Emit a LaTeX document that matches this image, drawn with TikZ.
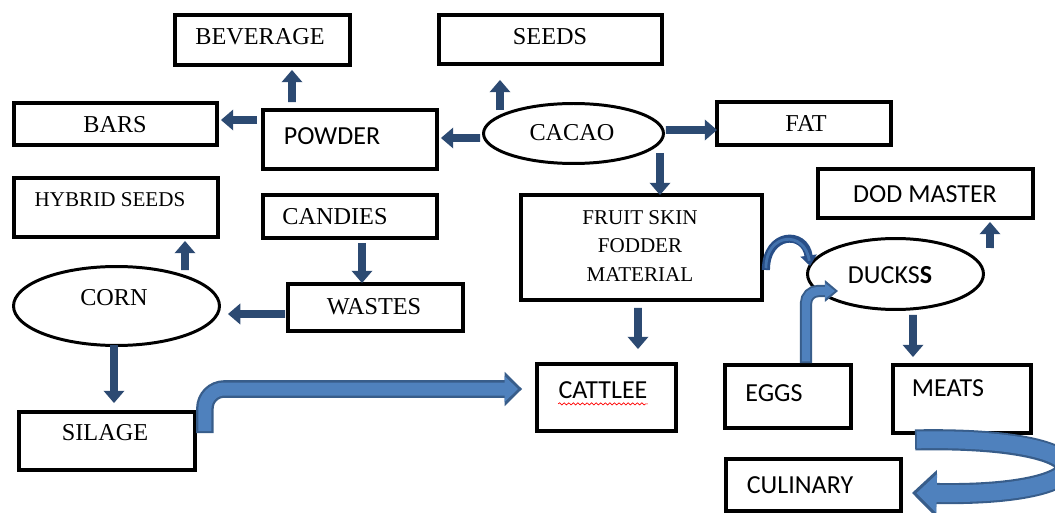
\documentclass[tikz,border=0pt]{standalone}
\usepackage{fontspec}
\setmainfont{Liberation Serif}
\newfontfamily\calibri{Carlito}
\usetikzlibrary{shapes,arrows.meta,positioning,calc,decorations.pathmorphing}
\definecolor{arrowdark}{RGB}{44,74,114}
\definecolor{fatline}{RGB}{56,93,138}
\definecolor{fatfill}{RGB}{79,129,189}
\definecolor{curlyblue}{RGB}{40,78,135}

\begin{document}
\begin{tikzpicture}
	[x=0.02cm, y=-0.02cm,
		box/.style 2 args={rectangle, draw=black, line width=2.2pt, minimum width=#1, minimum height=#2, inner sep=0pt},
		oval/.style 2 args={ellipse, draw=black, line width=1.7pt, minimum width=#1, minimum height=#2, inner sep=0pt},
		serif/.style={inner sep=0pt, font=\fontsize{13.8}{16}\selectfont},
		smallserif/.style={inner sep=0pt, align=center, font=\fontsize{12}{16.4}\selectfont},
		sans/.style={inner sep=0pt, font=\calibri\fontsize{14.8}{17}\selectfont},
		arr/.style={draw=arrowdark, line width=4.5pt, -{Triangle[width=11.5pt, length=7pt]}},
	]
	
	\useasboundingbox (0,0) rectangle (1055,513);
	
	% cacao side
	\node[box={3.5cm}{1cm}] (beverage) at (262.5,40) {};
	\node[box={4.46cm}{0.98cm}] (seeds) at (550.5,39.5) {};
	\node[box={4.06cm}{0.84cm}] (bars) at (115.5,124) {};
	\node[box={3.48cm}{1.18cm}] (powder) at (350,139.5) {};
	\node[oval={3.6cm}{1.2cm}] (cacao) at (573.5,133.5) {};
	\node[box={3.48cm}{0.86cm}] (fat) at (804,123.5) {};
	\node[box={3.48cm}{0.86cm}] (candies) at (350,216.5) {};
	\node[box={4.82cm}{2.1cm}] (fruit) at (641.5,247.5) {};
	
	% corn side
	\node[box={4.08cm}{1.18cm}] (hybrid) at (116,207.5) {};
	\node[oval={4.12cm}{1.58cm}] (corn) at (116.5,306) {};
	\node[box={3.5cm}{0.94cm}] (wastes) at (375.5,307.5) {};
	\node[box={3.52cm}{1.16cm}] (silage) at (107,441) {};
	\node[box={2.78cm}{1.34cm}] (cattlee) at (606.5,397.5) {};
	
	% ducks side
	\node[box={4.3cm}{0.98cm}] (dodmaster) at (925.5,193.5) {};
	\node[oval={3.52cm}{1.42cm}] (duckss) at (895.5,274) {};
	\node[box={2.52cm}{1.26cm}] (eggs) at (788,396.5) {};
	\node[box={2.76cm}{1.36cm}] (meats) at (962,399) {};
	\node[box={3.5cm}{1.04cm}] (culinary) at (813.5,485) {};
	
	% texts
	\node[serif] (beveragetext) at (260,37) {BEVERAGE};
	\node[serif] (seedstext) at (550,37) {SEEDS};
	\node[serif] (barstext) at (115,125) {BARS};
	\node[sans] (powdertext) at (332,136) {POWDER};
	\node[serif] (cacaotext) at (572,133) {CACAO};
	\node[serif] (fattext) at (806,123) {FAT};
	\node[smallserif] (hybridtext) at (110,200) {HYBRID SEEDS};
	\node[serif] (candiestext) at (335,217) {CANDIES};
	\node[smallserif] (fruittext) at (640,246) {FRUIT SKIN\\FODDER\\MATERIAL};
	\node[sans] (dodtext) at (925,194) {DOD MASTER};
	\node[sans] (duckstext) at (890,275) {DUCKS\textbf{S}};
	\node[serif] (corntext) at (114,298) {CORN};
	\node[serif] (wastestext) at (374,307) {WASTES};
	\node[serif] (silagetext) at (105,433) {SILAGE};
	\node[sans] (cattleetext) at (603,390) {CATTLEE};
	\node[sans] (eggstext) at (774,393) {EGGS};
	\node[sans] (meatstext) at (948,388) {MEATS};
	\node[sans] (culinarytext) at (800,485) {CULINARY};
	
	\draw[red, line width=0.4pt, decorate, decoration={snake, amplitude=0.6pt, segment length=2.6pt}] ($(cattleetext.south west)+(0,5)$) -- ($(cattleetext.south east)+(0,5)$);
	
	% straight arrows
	\draw[arr] ($(powder.north)+(-58,-6)$) -- ($(beverage.south)+(29.5,3)$);
	\draw[arr] ($(powder.west)+(-4,-19.5)$) -- ($(bars.east)+(2,-4)$);
	\draw[arr] ($(cacao.west)+(-2,4.5)$) -- ($(powder.east)+(2,-1.5)$);
	\draw[arr] ($(cacao.north)+(-73.5,8)$) -- ($(seeds.south)+(-50.5,14)$);
	\draw[arr] ($(cacao.east)+(1,-3.5)$) -- ($(fat.west)+(2,6.5)$);
	\draw[arr] ($(cacao.south)+(86.5,-12)$) -- ($(fruit.north)+(18.5,2)$);
	\draw[arr] ($(corn.north)+(68.5,5)$) -- ($(hybrid.south)+(69,2)$);
	\draw[arr] ($(candies.south)+(12,3)$) -- ($(wastes.north)+(-13.5,1)$);
	\draw[arr] ($(wastes.west)+(-1,6.5)$) -- ($(corn.east)+(7,8)$);
	\draw[arr] ($(corn.south)+(-2.5,-2)$) -- ($(silage.north)+(7,-7)$);
	\draw[arr] ($(fruit.south)+(-3.5,6)$) -- ($(cattlee.north)+(31.5,-13)$);
	\draw[arr] ($(duckss.east)+(5,-26)$) -- ($(dodmaster.south)+(64.5,2)$);
	\draw[arr] ($(duckss.south)+(17.5,4)$) -- ($(meats.north)+(-49,-6)$);
	
	% block arrows
	\draw[fatline, line width=10pt, rounded corners=11pt, -{Triangle[width=19pt, length=10pt]},
		postaction={draw=fatfill, line width=7.4pt, shorten >=2.4pt, shorten <=1pt, -{Triangle[width=14.5pt, length=7.6pt]}}]
		($(silage.east)+(8,-8)$) |- ($(cattlee.west)+(-13,-8.5)$);
	\draw[fatline, line width=7pt, rounded corners=7pt, -{Triangle[width=12pt, length=7.5pt]},
		postaction={draw=fatfill, line width=4.8pt, shorten >=1.8pt, shorten <=1pt, -{Triangle[width=8.5pt, length=5.5pt]}}]
		($(eggs.north)+(18,0)$) |- ($(duckss.west)+(32,17)$);
	\draw[curlyblue, line width=4.6pt, -{Triangle[width=9pt, length=6pt]},
		postaction={draw=fatfill!70!curlyblue, line width=1.6pt, shorten >=3pt, shorten <=1pt, -}]
		($(fruit.east)+(2,22.5)$) .. controls +(0,-38) and +(-5,-36) .. ($(duckss.west)+(4,-8)$);
	\draw[fatline, line width=12pt, -{Triangle[width=26pt, length=14pt]},
		postaction={draw=fatfill, line width=9.6pt, shorten >=2.6pt, shorten <=1pt, -{Triangle[width=21.5pt, length=11.5pt]}}]
		($(meats.south west)+(24,5)$) .. controls +(200,-4) and +(200,4) .. ($(culinary.east)+(9,8)$);
	
\end{tikzpicture}
\end{document}
